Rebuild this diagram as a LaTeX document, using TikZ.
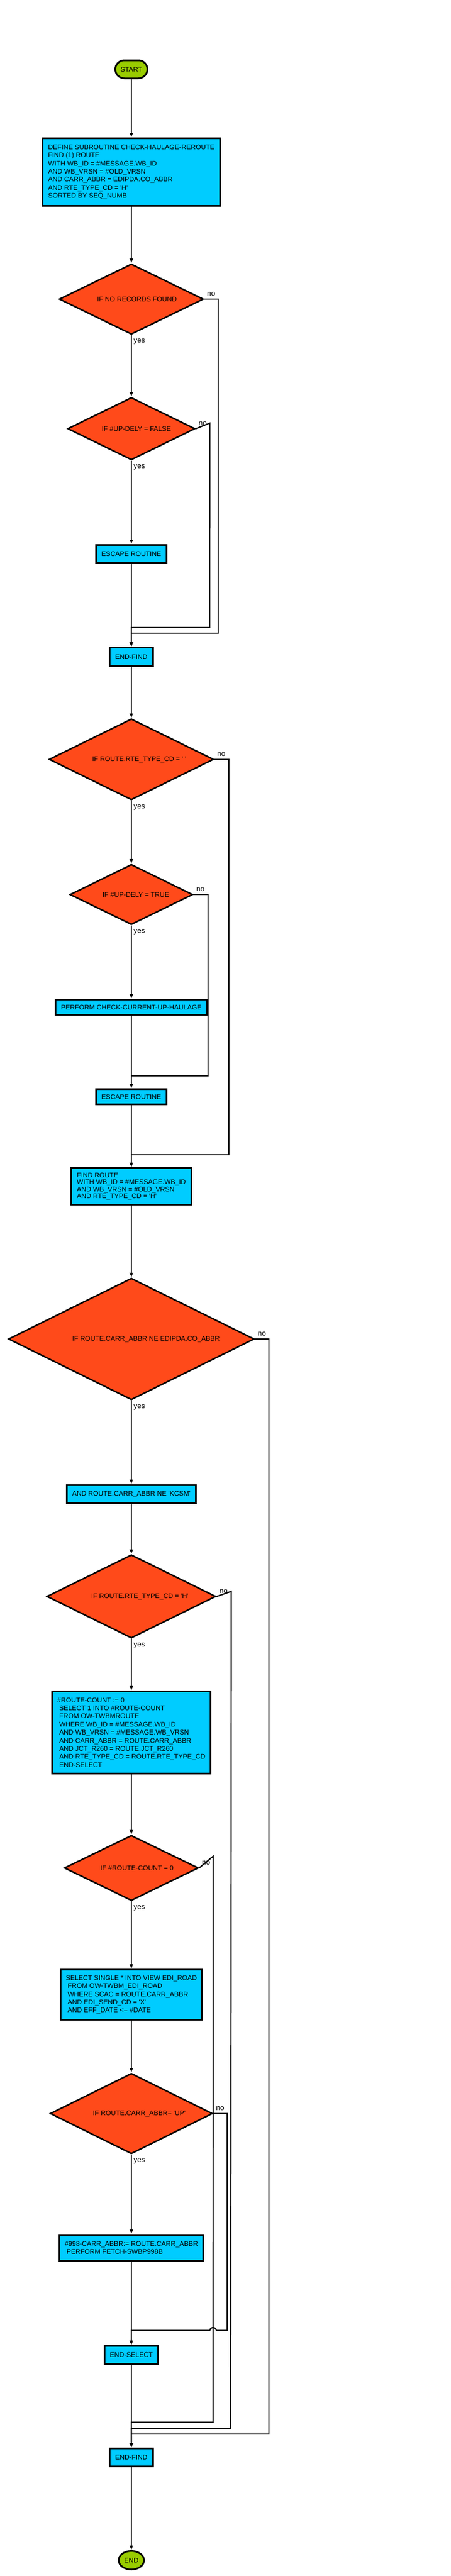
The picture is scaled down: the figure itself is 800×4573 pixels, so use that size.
\documentclass[tikz,border=0pt]{standalone}
\usepackage{fontspec}
\setmainfont{Liberation Sans}[Ligatures=TeXOff]
\usetikzlibrary{shapes.geometric,arrows.meta}
\definecolor{decfill}{HTML}{FF4A1A}
\definecolor{procfill}{HTML}{00CCFF}
\definecolor{termfill}{HTML}{99CC00}
\newcommand{\indsp}{\hspace*{3.3pt}}
\tikzset{
	proc/.style={draw,fill=procfill,line width=3pt,inner xsep=9.5pt,font=\fontsize{12}{14.4}\selectfont},
	procl/.style={proc,align=left},
	decision/.style={diamond,draw,fill=decfill,line width=2.6pt,inner sep=0pt},
	dtext/.style={inner sep=0pt,font=\fontsize{12}{14.4}\selectfont},
	term/.style={draw,fill=termfill,line width=3pt,inner sep=0pt,font=\fontsize{12}{14.4}\selectfont},
	conn/.style={line width=2.2pt,->},
	yeslbl/.style={anchor=north west,inner sep=3pt,yshift=-3pt,font=\fontsize{13}{15}\selectfont},
	nolbl/.style={anchor=south west,inner sep=2pt,xshift=2pt,yshift=2pt,font=\fontsize{13}{15}\selectfont},
	>={Latex[length=8pt,width=7pt]}
}
\begin{document}
\begin{tikzpicture}[x=1pt,y=-1pt]
	\useasboundingbox (0,0) rectangle (800,4573);
	% start and first find
	\node[term,rounded corners=16pt,minimum width=57pt,minimum height=32pt] (start) at (233,123) {START};
	\node[procl,minimum height=120pt] (define) at (233,305.5) {DEFINE SUBROUTINE CHECK-HAULAGE-REROUTE\\FIND (1) ROUTE\\WITH WB\_ID = \#MESSAGE.WB\_ID\\AND WB\_VRSN = \#OLD\_VRSN\\AND CARR\_ABBR = EDIPDA.CO\_ABBR\\AND RTE\_TYPE\_CD = 'H'\\SORTED BY SEQ\_NUMB};
	\node[decision,minimum width=256pt,minimum height=125pt] (d1) at (233,531) {};
	\node[dtext,xshift=10pt] (d1t) at (d1) {IF NO RECORDS FOUND};
	\node[decision,minimum width=226pt,minimum height=111pt] (d2) at (233,761) {};
	\node[dtext,xshift=9pt] (d2t) at (d2) {IF \#UP-DELY = FALSE};
	\node[proc,minimum height=32pt] (esc1) at (233,983.5) {ESCAPE ROUTINE};
	\node[proc,minimum height=33pt] (ef1) at (233,1166) {END-FIND};
	% route type blank
	\node[decision,minimum width=292pt,minimum height=144pt] (d3) at (233,1348) {};
	\node[dtext,xshift=14pt] (d3t) at (d3) {IF ROUTE.RTE\_TYPE\_CD = ' '};
	\node[decision,minimum width=218pt,minimum height=107pt] (d4) at (233,1588) {};
	\node[dtext,xshift=8pt] (d4t) at (d4) {IF \#UP-DELY = TRUE};
	\node[proc,minimum height=27pt] (perf) at (233,1788) {PERFORM CHECK-CURRENT-UP-HAULAGE};
	\node[proc,minimum height=27pt] (esc2) at (233,1947) {ESCAPE ROUTINE};
	\node[procl,minimum height=65pt,font=\fontsize{12}{12.4}\selectfont] (findr) at (233,2106) {FIND ROUTE\\WITH WB\_ID = \#MESSAGE.WB\_ID\\AND WB\_VRSN = \#OLD\_VRSN\\AND RTE\_TYPE\_CD = 'H'};
	% carrier checks
	\node[decision,minimum width=436pt,minimum height=216pt] (d5) at (233,2377) {};
	\node[dtext,xshift=26pt] (d5t) at (d5) {IF ROUTE.CARR\_ABBR NE EDIPDA.CO\_ABBR};
	\node[proc,minimum height=32pt] (andr) at (233,2652) {AND ROUTE.CARR\_ABBR NE 'KCSM'};
	\node[decision,minimum width=300pt,minimum height=148pt] (d6) at (233,2834) {};
	\node[dtext,xshift=15pt] (d6t) at (d6) {IF ROUTE.RTE\_TYPE\_CD = 'H'};
	\node[procl,minimum height=146pt] (cnt) at (233,3075.5) {\#ROUTE-COUNT := 0\\\indsp SELECT 1 INTO \#ROUTE-COUNT\\\indsp FROM OW-TWBMROUTE\\\indsp WHERE WB\_ID = \#MESSAGE.WB\_ID\\\indsp AND WB\_VRSN = \#MESSAGE.WB\_VRSN\\\indsp AND CARR\_ABBR = ROUTE.CARR\_ABBR\\\indsp AND JCT\_R260 = ROUTE.JCT\_R260\\\indsp AND RTE\_TYPE\_CD = ROUTE.RTE\_TYPE\_CD\\\indsp END-SELECT};
	\node[decision,minimum width=238pt,minimum height=116pt] (d7) at (233,3316) {};
	\node[dtext,xshift=10pt] (d7t) at (d7) {IF \#ROUTE-COUNT = 0};
	\node[procl,minimum height=89pt] (sel) at (233,3541) {SELECT SINGLE * INTO VIEW EDI\_ROAD\\\indsp FROM OW-TWBM\_EDI\_ROAD\\\indsp WHERE SCAC = ROUTE.CARR\_ABBR\\\indsp AND EDI\_SEND\_CD = 'X'\\\indsp AND EFF\_DATE <= \#DATE};
	\node[decision,minimum width=288pt,minimum height=143pt] (d8) at (233,3752) {};
	\node[dtext,xshift=14pt] (d8t) at (d8) {IF ROUTE.CARR\_ABBR= 'UP'};
	\node[procl,minimum height=46pt] (c998) at (233,3990.5) {\#998-CARR\_ABBR:= ROUTE.CARR\_ABBR\\\indsp PERFORM FETCH-SWBP998B};
	\node[proc,minimum height=32pt] (endsel) at (233,4180.5) {END-SELECT};
	\node[proc,minimum height=32pt] (ef2) at (233,4362.5) {END-FIND};
	\node[term,ellipse,minimum width=45pt,minimum height=33pt] (end) at (233,4545) {END};
	% rails of the no branches
	\coordinate (j1) at (387,1124);
	\coordinate (j2) at (372,1114);
	\coordinate (j3) at (406,2050);
	\coordinate (j4) at (369,1910);
	\coordinate (j5) at (477,4321);
	\coordinate (j6) at (409,4311);
	\coordinate (j7) at (378,4300);
	\coordinate (j8) at (403,4137);
	% main flow
	\draw[conn] (start) -- (define);
	\draw[conn] (define) -- (d1);
	\draw[conn] (d1.south) -- node[yeslbl,pos=0] {yes} (d2.north);
	\draw[conn] (d2.south) -- node[yeslbl,pos=0] {yes} (esc1.north);
	\draw[conn] (esc1) -- (ef1);
	\draw[conn] (ef1) -- (d3);
	\draw[conn] (d3.south) -- node[yeslbl,pos=0] {yes} (d4.north);
	\draw[conn] (d4.south) -- node[yeslbl,pos=0] {yes} (perf.north);
	\draw[conn] (perf) -- (esc2);
	\draw[conn] (esc2) -- (findr);
	\draw[conn] (findr) -- (d5);
	\draw[conn] (d5.south) -- node[yeslbl,pos=0] {yes} (andr.north);
	\draw[conn] (andr) -- (d6);
	\draw[conn] (d6.south) -- node[yeslbl,pos=0] {yes} (cnt.north);
	\draw[conn] (cnt) -- (d7);
	\draw[conn] (d7.south) -- node[yeslbl,pos=0] {yes} (sel.north);
	\draw[conn] (sel) -- (d8);
	\draw[conn] (d8.south) -- node[yeslbl,pos=0] {yes} (c998.north);
	\draw[conn] (c998) -- (endsel);
	\draw[conn] (endsel) -- (ef2);
	\draw[conn] (ef2) -- (end);
	% no branches
	\draw[conn] (d1.east) node[nolbl] {no} -| (j1) -| (ef1.north);
	\draw[conn] (d2.east) node[nolbl] {no} -- ++(25,-10) -- (j2) -| (ef1.north);
	\draw[conn] (d3.east) node[nolbl] {no} -| (j3) -| (findr.north);
	\draw[conn] (d4.east) node[nolbl] {no} -| (j4) -| (esc2.north);
	\draw[conn] (d5.east) node[nolbl] {no} -| (j5) -| (ef2.north);
	\draw[conn] (d6.east) node[nolbl] {no} -- ++(26,-9) -- (j6) -| (ef2.north);
	\draw[conn] (d7.east) node[nolbl] {no} -- ++(25,-21) -- (j7) -| (ef2.north);
	\draw[conn] (d8.east) node[nolbl] {no} -| (j8) -- ++(-19,0) arc[start angle=0,end angle=180,x radius=6pt,y radius=5pt] -| (endsel.north);
\end{tikzpicture}
\end{document}
